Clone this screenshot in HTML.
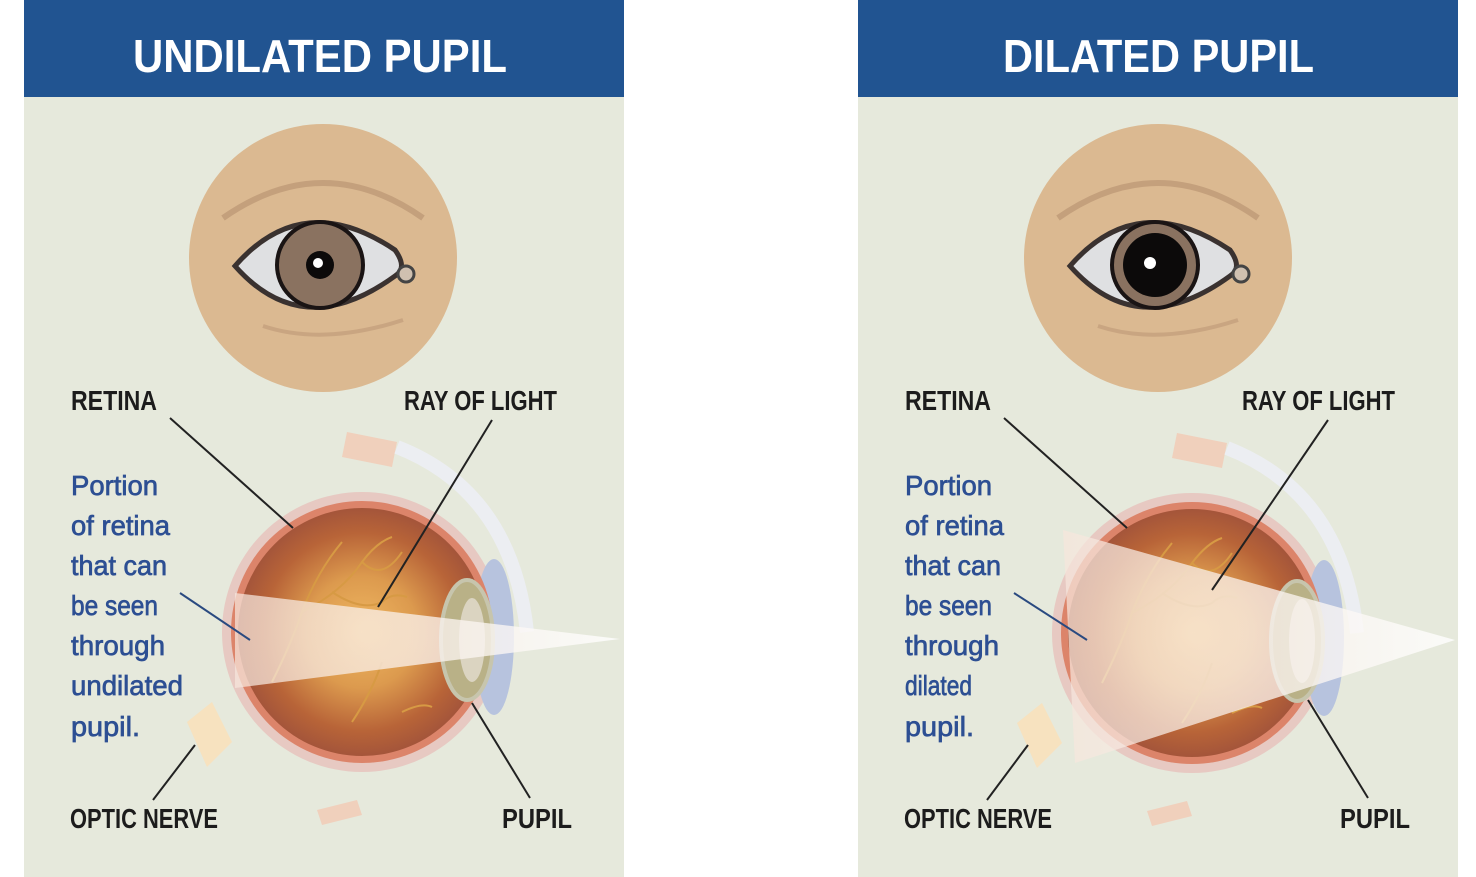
<!DOCTYPE html>
<html><head><meta charset="utf-8"><style>
html,body{margin:0;padding:0;background:#fff;}
svg{display:block}
text{font-family:"Liberation Sans",sans-serif;}
</style></head><body>
<svg width="1476" height="877" viewBox="0 0 1476 877" xmlns="http://www.w3.org/2000/svg">
<defs>
<radialGradient id="inner" cx="0.5" cy="0.5" r="0.5">
<stop offset="0" stop-color="#f0b862"/><stop offset="0.45" stop-color="#dc9a4e"/><stop offset="0.8" stop-color="#b86438"/><stop offset="1" stop-color="#a4553a"/>
</radialGradient>
<linearGradient id="beam" x1="0" x2="1"><stop offset="0" stop-color="#f6e6dc" stop-opacity="0.85"/><stop offset="1" stop-color="#ffffff" stop-opacity="0.95"/></linearGradient>
<g id="face">
<circle cx="0" cy="0" r="134" fill="#dbb991"/>
<path d="M-100,-40 Q0,-110 100,-40" stroke="#c4a07c" stroke-width="6" fill="none"/>
<path d="M-60,68 Q0,88 80,62" stroke="#c9a581" stroke-width="4" fill="none"/>
<path d="M-88,8 Q-20,-70 72,-8 Q85,10 72,18 Q-20,85 -88,8 Z" fill="#dfe0e2" stroke="#3a3230" stroke-width="5"/>
<circle cx="83" cy="16" r="8" fill="#cfc0b0" stroke="#444" stroke-width="3"/>
</g>
<g id="sphere">
<path d="M-15,-200 L35,-190 L30,-165 L-20,-175 Z" fill="#f2c9b4" opacity="0.8"/>
<path d="M-45,178 L-5,168 L0,183 L-40,193 Z" fill="#f2c9b4" opacity="0.8"/>
<path d="M-175,90 L-150,70 L-130,110 L-155,135 Z" fill="#f7e2bf"/>
<path d="M35,-185 Q150,-140 165,0" stroke="#eceef2" stroke-width="14" fill="none"/>
<circle cx="0" cy="0" r="140" fill="#e7c9c2"/>
<ellipse cx="132" cy="5" rx="20" ry="78" fill="#b7c3de"/>
<circle cx="0" cy="0" r="131" fill="#dc846a"/>
<circle cx="0" cy="0" r="124" fill="url(#inner)"/>
<ellipse cx="105" cy="8" rx="26" ry="60" fill="#b9b187" stroke="#c7c5ad" stroke-width="4"/>
<ellipse cx="110" cy="8" rx="13" ry="42" fill="#e3ddd0" opacity="0.8"/>
<g stroke="#d79a44" stroke-width="2" fill="none">
<path d="M-90,50 Q-70,10 -60,-20 Q-45,-60 -20,-90"/>
<path d="M-60,-20 Q-20,-40 0,-70 Q15,-90 30,-95"/>
<path d="M0,-70 Q20,-50 40,-80"/>
<path d="M-30,-40 Q0,-20 20,-30 Q30,-40 45,-35"/>
<path d="M-10,90 Q10,60 20,30"/><path d="M40,80 Q60,70 70,75"/>
</g>
</g>
</defs>
<!-- left panel -->
<rect x="24" y="0" width="600" height="877" fill="#e6e9dc"/>
<rect x="24" y="0" width="600" height="97" fill="#215491"/>
<text x="133" y="72" font-size="46" fill="#fff" font-weight="bold" textLength="374" lengthAdjust="spacingAndGlyphs">UNDILATED PUPIL</text>
<g transform="translate(323,258)"><use href="#face"/>
<circle cx="-3" cy="7" r="43" fill="#8a7260" stroke="#1a1414" stroke-width="4"/>
<circle cx="-3" cy="7" r="14" fill="#0c0a0a"/><circle cx="-5" cy="5" r="5" fill="#fff"/></g>
<g transform="translate(362,632)"><use href="#sphere"/></g>
<path d="M235,593 L620,639 L235,688 Z" fill="url(#beam)" opacity="0.85"/>
<g stroke="#222" stroke-width="2"><line x1="170" y1="418" x2="293" y2="528"/><line x1="492" y1="420" x2="378" y2="607"/><line x1="195" y1="745" x2="153" y2="800"/><line x1="472" y1="703" x2="530" y2="798"/></g>
<line x1="180" y1="593" x2="250" y2="640" stroke="#2a4a80" stroke-width="2"/>
<g font-size="28" fill="#1c1c1c" font-weight="bold"><text x="71" y="410" textLength="86" lengthAdjust="spacingAndGlyphs">RETINA</text><text x="404" y="410" textLength="153" lengthAdjust="spacingAndGlyphs">RAY OF LIGHT</text><text x="70" y="828" textLength="148" lengthAdjust="spacingAndGlyphs">OPTIC NERVE</text><text x="502" y="828" textLength="70" lengthAdjust="spacingAndGlyphs">PUPIL</text></g>
<g font-size="28" fill="#2d4f93" stroke="#2d4f93" stroke-width="0.7"><text x="71" y="495" textLength="87" lengthAdjust="spacingAndGlyphs">Portion</text><text x="71" y="535" textLength="99" lengthAdjust="spacingAndGlyphs">of retina</text><text x="71" y="575" textLength="96" lengthAdjust="spacingAndGlyphs">that can</text><text x="71" y="615" textLength="87" lengthAdjust="spacingAndGlyphs">be seen</text><text x="71" y="655" textLength="94" lengthAdjust="spacingAndGlyphs">through</text><text x="71" y="695" textLength="112" lengthAdjust="spacingAndGlyphs">undilated</text><text x="71" y="736" textLength="69" lengthAdjust="spacingAndGlyphs">pupil.</text></g>
<!-- right panel -->
<rect x="858" y="0" width="600" height="877" fill="#e6e9dc"/>
<rect x="858" y="0" width="600" height="97" fill="#215491"/>
<text x="1003" y="72" font-size="46" fill="#fff" font-weight="bold" textLength="311" lengthAdjust="spacingAndGlyphs">DILATED PUPIL</text>
<g transform="translate(1158,258)"><use href="#face"/>
<circle cx="-3" cy="7" r="43" fill="#8a7260" stroke="#1a1414" stroke-width="4"/>
<circle cx="-3" cy="7" r="32" fill="#0c0a0a"/><circle cx="-8" cy="5" r="6" fill="#fff"/></g>
<g transform="translate(1192,633)"><use href="#sphere"/></g>
<path d="M1063,530 L1455,640 L1075,763 Z" fill="url(#beam)" opacity="0.85"/>
<g stroke="#222" stroke-width="2"><line x1="1004" y1="418" x2="1127" y2="528"/><line x1="1328" y1="420" x2="1212" y2="590"/><line x1="1028" y1="745" x2="987" y2="800"/><line x1="1308" y1="700" x2="1368" y2="798"/></g>
<line x1="1014" y1="593" x2="1087" y2="640" stroke="#2a4a80" stroke-width="2"/>
<g font-size="28" fill="#1c1c1c" font-weight="bold"><text x="905" y="410" textLength="86" lengthAdjust="spacingAndGlyphs">RETINA</text><text x="1242" y="410" textLength="153" lengthAdjust="spacingAndGlyphs">RAY OF LIGHT</text><text x="904" y="828" textLength="148" lengthAdjust="spacingAndGlyphs">OPTIC NERVE</text><text x="1340" y="828" textLength="70" lengthAdjust="spacingAndGlyphs">PUPIL</text></g>
<g font-size="28" fill="#2d4f93" stroke="#2d4f93" stroke-width="0.7"><text x="905" y="495" textLength="87" lengthAdjust="spacingAndGlyphs">Portion</text><text x="905" y="535" textLength="99" lengthAdjust="spacingAndGlyphs">of retina</text><text x="905" y="575" textLength="96" lengthAdjust="spacingAndGlyphs">that can</text><text x="905" y="615" textLength="87" lengthAdjust="spacingAndGlyphs">be seen</text><text x="905" y="655" textLength="94" lengthAdjust="spacingAndGlyphs">through</text><text x="905" y="695" textLength="67" lengthAdjust="spacingAndGlyphs">dilated</text><text x="905" y="736" textLength="69" lengthAdjust="spacingAndGlyphs">pupil.</text></g>
</svg>
</body></html>
